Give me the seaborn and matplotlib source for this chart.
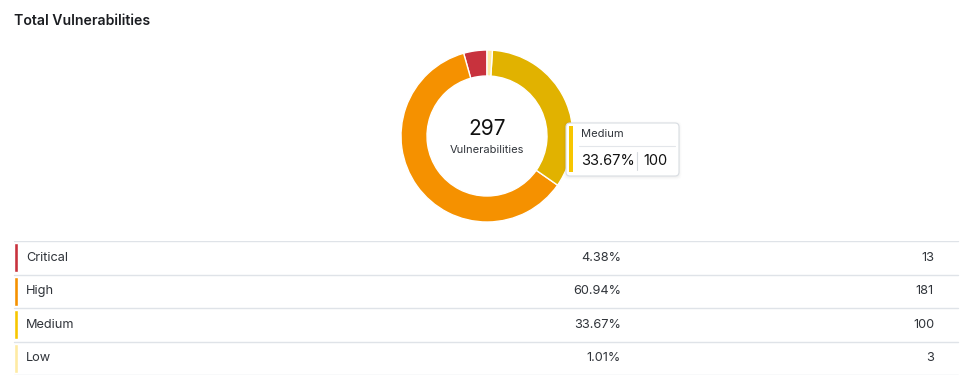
import matplotlib
matplotlib.use("Agg")
import matplotlib.pyplot as plt
from matplotlib.patches import FancyBboxPatch
import seaborn as sns

# ---- data ----
categories = ["Critical", "High", "Medium", "Low"]
counts = [13, 181, 100, 3]
pct_labels = ["4.38%", "60.94%", "33.67%", "1.01%"]
total = 297
title = "Total Vulnerabilities"
center_label = "Vulnerabilities"
hover_category = "Medium"

# ---- style ----
sns.set_theme(style="white")
plt.rcParams["font.family"] = ["Inter", "DejaVu Sans"]
palette = sns.color_palette(["#C8323D", "#F59100", "#F7C600", "#FEEBA3"])
donut_colors = ["#C8323D", "#F59100", "#E1B200", "#FEEBA3"]  # Medium shown hovered
text_col = "#30343a"
line_col = "#dfe3e8"

W, H = 973, 382
fig = plt.figure(figsize=(W / 100, H / 100), dpi=100)
fig.patch.set_facecolor("white")

# ---- donut ----
cx, cy, R, ring = 487, 136, 86, 26
half = 92
pax = fig.add_axes([(cx - half) / W, (H - cy - half) / H, 2 * half / W, 2 * half / H])
pax.pie(counts, colors=donut_colors, startangle=90, counterclock=True,
        radius=R, wedgeprops=dict(width=ring, edgecolor="white", linewidth=1.0))
pax.set_xlim(-half, half)
pax.set_ylim(-half, half)
pax.set_aspect("equal")
pax.axis("off")
pax.text(0, 7, f"{total}", ha="center", va="center", fontsize=15, color="#111111")
pax.text(0, -14, center_label, ha="center", va="center", fontsize=8, color=text_col)

# ---- overlay (pixel coordinates) ----
ov = fig.add_axes([0, 0, 1, 1], zorder=5)
ov.set_xlim(0, W)
ov.set_ylim(H, 0)
ov.axis("off")
ov.patch.set_alpha(0)
ov.text(14, 21, title, ha="left", va="center", fontsize=10.1, fontweight="semibold",
        color="#1b1d21")

# tooltip
i_h = categories.index(hover_category)
tx0, ty0, tw, th = 566, 123, 113, 53
for k, a in enumerate([0.025, 0.018, 0.012]):
    ov.add_patch(FancyBboxPatch((tx0 - k - 0.5, ty0 - k + 0.5), tw + 2 * k + 1, th + 2 * k + 1,
                                boxstyle="round,pad=0,rounding_size=4",
                                fc=(0, 0, 0, a), ec="none", zorder=1))
ov.add_patch(FancyBboxPatch((tx0, ty0), tw, th, boxstyle="round,pad=0,rounding_size=4",
                            fc="white", ec="#d9dde2", lw=0.8, zorder=2))
ov.add_patch(plt.Rectangle((569, 126), 4, 46, fc=palette[i_h], ec="none", zorder=3))
ov.text(581, 134, hover_category, ha="left", va="center", fontsize=8, color=text_col, zorder=3)
ov.plot([579, 675], [146, 146], color="#e3e6ea", lw=0.8, zorder=3)
ov.text(581, 161, pct_labels[i_h], ha="left", va="center", fontsize=10.5, color="#111111", zorder=3)
ov.plot([637, 637], [152, 170], color="#d6dade", lw=0.8, zorder=3)
ov.text(643, 161, f"{counts[i_h]}", ha="left", va="center", fontsize=10.5, color="#111111", zorder=3)

# ---- table ----
top, bottom = 241, 375
tax = fig.add_axes([0, (H - bottom) / H, 1, (bottom - top) / H])
tax.set_xlim(0, W)
tax.set_ylim(len(categories), 0)
tax.axis("off")
rows = list(range(len(categories)))
tax.barh([r + 0.5 for r in rows], [4] * len(rows), left=14, height=0.86,
         color=list(palette))
for r in range(len(categories) + 1):
    tax.plot([14, 958], [r, r], color=line_col, lw=1.0)
for r, (c, p, n) in enumerate(zip(categories, pct_labels, counts)):
    tax.text(26, r + 0.5, c, ha="left", va="center", fontsize=9.2, color=text_col)
    tax.text(621, r + 0.5, p, ha="right", va="center", fontsize=9.2, color=text_col)
    tax.text(934, r + 0.5, f"{n}", ha="right", va="center", fontsize=9.2, color=text_col)

fig.savefig("out.png", dpi=100, facecolor="white")
